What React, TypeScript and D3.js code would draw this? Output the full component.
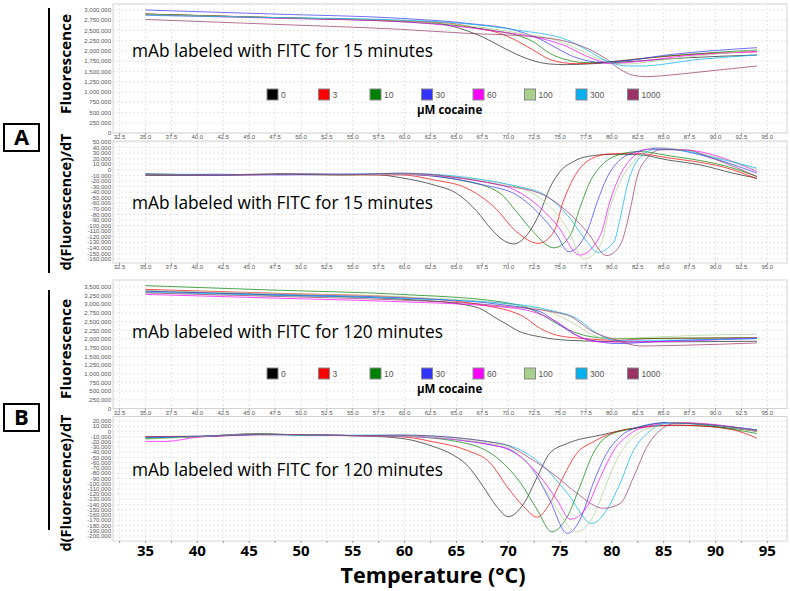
import * as d3 from "d3";

type Pt = [number, number];

const concentrations = ["0", "3", "10", "30", "60", "100", "300", "1000"];
const seriesColors = ["#222222", "#ff0000", "#008000", "#3333ff", "#ff00ff", "#a9d18e", "#00b0f0", "#993366"];

// Fluorescence, mAb labeled 15 min (values in thousands)
const fluor15: Pt[][] = [
  [[35, 2900], [47.5, 2815], [59.6, 2732], [62.8, 2691], [64.4, 2618], [66.0, 2496], [67.6, 2333], [69.2, 2122], [70.8, 1919], [72.4, 1764], [74.0, 1683], [75.7, 1667], [78.2, 1691], [82.1, 1748], [86.9, 1829], [94.0, 1902]],
  [[35, 2900], [47.5, 2815], [59.6, 2732], [64.4, 2675], [67.0, 2553], [69.2, 2431], [70.8, 2252], [72.4, 2024], [74.0, 1797], [75.3, 1715], [76.6, 1691], [78.9, 1715], [82.1, 1797], [86.9, 1902], [94.0, 1984]],
  [[35, 2900], [47.5, 2808], [59.6, 2715], [66.0, 2593], [69.2, 2472], [70.8, 2390], [72.4, 2228], [74.0, 1943], [75.7, 1781], [77.6, 1715], [79.5, 1732], [85.3, 1878], [94.0, 2024]],
  [[35, 3000], [47.5, 2900], [59.6, 2797], [66.0, 2675], [70.8, 2496], [73.1, 2285], [74.7, 2065], [76.3, 1862], [77.6, 1764], [78.9, 1724], [80.8, 1748], [85.3, 1902], [94.0, 2081]],
  [[35, 2880], [47.5, 2800], [59.6, 2715], [69.2, 2472], [73.1, 2309], [75.7, 2106], [77.3, 1902], [78.9, 1748], [79.8, 1691], [82.1, 1732], [86.9, 1878], [94.0, 1984]],
  [[35, 2890], [47.5, 2815], [59.6, 2740], [70.8, 2447], [75.0, 2228], [76.9, 2024], [78.6, 1821], [80.2, 1699], [81.5, 1683], [85.3, 1797], [94.0, 2024]],
  [[35, 2870], [47.5, 2815], [59.6, 2756], [70.8, 2512], [75.7, 2268], [77.6, 2024], [79.5, 1756], [81.5, 1634], [82.7, 1634], [88.5, 1797], [94.0, 1902]],
  [[35, 2770], [47.5, 2650], [59.6, 2528], [66.0, 2431], [72.4, 2350], [75.7, 2228], [77.6, 2065], [79.5, 1797], [80.8, 1553], [82.1, 1406], [83.4, 1374], [85.3, 1406], [88.5, 1488], [94.0, 1634]],
];

// d(Fluorescence)/dT, labeled 15 min (thousands)
const deriv15: Pt[][] = [
  [[35, -7], [42, -9], [48, -7], [54, -8], [57.5, -9], [59.6, -14], [62.8, -27], [65.0, -42], [67.0, -75], [68.3, -105], [69.5, -126], [70.5, -133], [71.8, -117], [73.1, -75], [74.0, -33], [75.0, -3], [76.3, 15], [77.6, 24], [80.2, 28], [82.7, 27], [85.3, 18], [88.5, 9], [91.7, -6], [94.0, -15]],
  [[35, -9], [42, -10], [48, -8], [54, -9], [59.6, -9], [62.8, -18], [66.0, -33], [68.6, -66], [70.8, -111], [72.9, -132], [74.4, -111], [75.3, -57], [76.3, -15], [77.6, 15], [79.5, 28], [82.1, 30], [85.3, 22], [91.7, 0], [94.0, -16]],
  [[35, -10], [42, -9], [48, -8], [54, -9], [59.6, -8], [66.0, -21], [69.2, -42], [70.8, -75], [72.4, -111], [74.4, -140], [76.0, -117], [76.9, -69], [77.9, -21], [78.9, 6], [80.5, 26], [82.7, 33], [85.3, 26], [91.7, 3], [94.0, -12]],
  [[35, -8], [42, -10], [48, -8], [54, -8], [59.6, -8], [67.6, -27], [70.8, -45], [73.1, -81], [74.7, -117], [75.8, -147], [77.6, -111], [78.6, -57], [79.5, -15], [80.8, 18], [82.7, 34], [84.7, 39], [88.5, 27], [94.0, -6]],
  [[35, -9], [42, -8], [48, -9], [54, -8], [59.6, -8], [69.2, -27], [72.4, -57], [74.7, -99], [76.9, -153], [78.9, -117], [79.8, -57], [80.8, -9], [82.1, 24], [83.4, 37], [86.9, 36], [94.0, -3]],
  [[35, -8], [42, -9], [48, -8], [54, -9], [59.6, -8], [69.2, -24], [73.1, -51], [75.7, -105], [77.3, -160], [78.9, -135], [79.8, -69], [80.8, -21], [82.1, 15], [83.4, 36], [84.0, 40], [88.5, 30], [94.0, 0]],
  [[35, -8], [42, -8], [48, -9], [54, -8], [59.6, -6], [72.4, -36], [75.7, -81], [77.6, -129], [78.6, -148], [80.2, -129], [80.8, -87], [81.5, -27], [82.4, 15], [84.0, 36], [85.3, 37], [90.1, 21], [94.0, 3]],
  [[35, -9], [42, -9], [48, -8], [54, -9], [59.6, -6], [69.2, -27], [73.4, -45], [75.7, -75], [77.6, -111], [79.5, -154], [80.8, -135], [81.8, -69], [82.4, -15], [83.4, 21], [84.7, 36], [86.9, 36], [90.1, 18], [94.0, -12]],
];

// Fluorescence, labeled 120 min (thousands)
const fluor120: Pt[][] = [
  [[35, 3384], [47.5, 3270], [59.6, 3153], [66.0, 2979], [67.6, 2834], [68.6, 2642], [69.9, 2420], [70.8, 2256], [73.1, 2063], [75.7, 1966], [78.9, 1937], [82.1, 1918], [94.0, 1937]],
  [[35, 3432], [47.5, 3320], [59.6, 3211], [69.2, 2883], [71.5, 2642], [73.1, 2304], [74.7, 2111], [77.3, 2015], [80.5, 1966], [83.7, 2015], [94.0, 2034]],
  [[35, 3539], [47.5, 3410], [59.6, 3288], [69.2, 3076], [72.4, 2834], [74.4, 2497], [76.3, 2207], [78.9, 2034], [80.5, 2015], [85.3, 2025], [94.0, 2040]],
  [[35, 3384], [47.5, 3290], [59.6, 3191], [69.2, 2998], [73.1, 2786], [75.0, 2400], [76.9, 2063], [78.9, 1918], [80.5, 1870], [85.3, 1947], [94.0, 2015]],
  [[35, 3288], [47.5, 3180], [59.6, 3076], [69.2, 2931], [72.4, 2786], [74.7, 2497], [76.6, 2111], [78.9, 1918], [82.1, 1918], [94.0, 2034]],
  [[35, 3400], [47.5, 3310], [59.6, 3220], [70.8, 2979], [74.0, 2786], [76.6, 2400], [78.2, 2111], [79.5, 2015], [82.1, 2034], [88.5, 2111], [94.0, 2140]],
  [[35, 3350], [47.5, 3260], [59.6, 3172], [70.8, 2998], [74.0, 2834], [76.6, 2593], [78.6, 2159], [80.2, 1966], [85.3, 1966], [94.0, 2015]],
  [[35, 3330], [47.5, 3230], [59.6, 3124], [69.2, 2960], [75.7, 2690], [78.2, 2207], [80.5, 1966], [82.7, 1802], [86.9, 1822], [94.0, 1889]],
];

// d(Fluorescence)/dT, labeled 120 min (thousands)
const deriv120: Pt[][] = [
  [[35, -12], [40, -10], [46, -4], [50, -7], [55, -8], [59.6, -13], [62.8, -29], [64.4, -42], [66.0, -64], [67.6, -106], [68.9, -144], [70.0, -163], [71.5, -138], [72.8, -87], [74.0, -42], [75.7, -23], [78.9, -7], [82.1, 6], [85.3, 12], [91.7, 6], [94.0, 0]],
  [[35, -10], [40, -10], [46, -6], [50, -6], [55, -8], [59.6, -10], [62.8, -20], [66.0, -36], [68.3, -61], [69.9, -106], [71.5, -144], [72.8, -164], [74.0, -138], [75.3, -87], [76.6, -42], [78.2, -20], [80.5, 0], [83.7, 9], [86.9, 12], [91.7, 3], [94.0, -13]],
  [[35, -14], [40, -10], [46, -5], [50, -7], [55, -8], [59.6, -9], [66.0, -23], [69.2, -55], [71.2, -99], [72.8, -150], [74.2, -192], [75.7, -163], [76.9, -106], [78.2, -42], [79.5, -10], [82.1, 6], [84.0, 14], [85.3, 17], [94.0, -4]],
  [[35, -11], [40, -10], [46, -6], [50, -6], [55, -8], [59.6, -9], [69.2, -29], [72.4, -74], [74.0, -131], [75.7, -195], [76.9, -170], [78.2, -99], [79.5, -42], [80.8, -10], [82.7, 9], [85.3, 17], [94.0, 3]],
  [[35, -19], [37, -19], [40, -11], [46, -6], [50, -6], [55, -8], [59.6, -9], [69.2, -29], [73.1, -87], [74.7, -131], [76.0, -168], [77.6, -144], [78.9, -87], [80.2, -36], [81.8, -4], [84.0, 12], [86.6, 17], [94.0, 2]],
  [[35, -15], [40, -10], [46, -5], [50, -6], [55, -8], [59.6, -9], [69.2, -26], [72.4, -74], [74.4, -138], [76.6, -192], [78.2, -163], [79.5, -99], [80.8, -42], [82.1, -10], [84.0, 9], [86.0, 17], [94.0, 0]],
  [[35, -12], [40, -9], [46, -6], [50, -7], [55, -7], [59.6, -7], [69.2, -23], [73.1, -61], [75.7, -118], [78.1, -176], [79.5, -150], [80.8, -99], [82.1, -36], [83.4, -4], [85.3, 16], [94.0, 3]],
  [[35, -10], [40, -9], [46, -6], [50, -6], [55, -8], [59.6, -7], [69.2, -23], [72.4, -55], [74.7, -87], [76.6, -118], [79.2, -147], [80.8, -138], [82.1, -87], [83.4, -29], [84.7, 3], [86.3, 16], [94.0, 2]],
];

const xTicks = d3.range(32.5, 95.01, 2.5);
const bigTicks = d3.range(35, 95.01, 5);

const X_DOMAIN: [number, number] = [31.86, 96.9];
const PLOT_LEFT = 113;
const PLOT_RIGHT = 787;

const fmtY = d3
  .formatLocale({ decimal: ".", thousands: ",", grouping: [3], currency: ["", ""], minus: "-" })
  .format(",");
const fmtX = d3.format(".1f");

const x = d3.scaleLinear().domain(X_DOMAIN).range([PLOT_LEFT, PLOT_RIGHT]);

type PanelProps = {
  data: Pt[][];
  top: number;
  bottom: number;
  domain: [number, number];
  ticks: number[];
  title: string;
  titleY: number;
  titleLen: number;
  legendY?: number;
  xLabels: boolean;
};

const Panel = ({ data, top, bottom, domain, ticks, title, titleY, titleLen, legendY, xLabels }: PanelProps) => {
  const y = d3.scaleLinear().domain(domain).range([bottom, top]);
  const line = d3
    .line<Pt>()
    .x((d) => x(d[0]))
    .y((d) => y(d[1]))
    .curve(d3.curveMonotoneX);

  return (
    <g>
      {xTicks.map((t) => (
        <line key={"vx" + t} x1={x(t)} x2={x(t)} y1={top} y2={bottom} stroke="#e6e6e6" strokeWidth={1} strokeDasharray="2,2" />
      ))}
      {ticks.map((t) => (
        <line key={"hy" + t} x1={PLOT_LEFT} x2={PLOT_RIGHT} y1={y(t)} y2={y(t)} stroke="#e6e6e6" strokeWidth={1} strokeDasharray="2,2" />
      ))}
      <rect x={PLOT_LEFT} y={top} width={PLOT_RIGHT - PLOT_LEFT} height={bottom - top} fill="none" stroke="#d4d4d4" />
      {ticks.map((t) => (
        <text key={"ty" + t} x={PLOT_LEFT - 2} y={y(t)} dy="0.35em" textAnchor="end" fontSize={6} fill="#555" fontFamily="Liberation Sans, Arial, sans-serif">
          {fmtY(t * 1000)}
        </text>
      ))}
      {xTicks.map((t) => (
        <line key={"tx" + t} x1={x(t)} x2={x(t)} y1={bottom} y2={bottom + 2} stroke="#999" />
      ))}
      {xLabels &&
        xTicks.map((t) => (
          <text key={"lx" + t} x={x(t)} y={bottom + 6} textAnchor="middle" fontSize={6} fill="#555" fontFamily="Liberation Sans, Arial, sans-serif">
            {fmtX(t)}
          </text>
        ))}
      <text x={132} y={titleY} fontSize={18} fontFamily="Open Sans, sans-serif" fill="#000" textLength={titleLen} lengthAdjust="spacingAndGlyphs">
        {title}
      </text>
      {data.map((s, i) => (
        <path key={"s" + i} d={line(s) || ""} fill="none" stroke={seriesColors[i]} strokeWidth={1} strokeOpacity={0.7} />
      ))}
      {legendY !== undefined && (
        <g>
          {concentrations.map((c, i) => (
            <g key={"lg" + c} transform={`translate(${267 + i * 51.5},${legendY})`}>
              <rect x={0} y={0} width={11} height={11} fill={seriesColors[i] === "#222222" ? "#000" : seriesColors[i]} stroke="#888" strokeWidth={1} />
              <text x={14} y={9} fontSize={8.5} fill="#555" fontFamily="Liberation Sans, Arial, sans-serif">
                {c}
              </text>
            </g>
          ))}
          <text x={417} y={legendY + 25} fontSize={11.5} fontWeight="bold" fontFamily="Open Sans, sans-serif" fill="#000">
            µM cocaine
          </text>
        </g>
      )}
    </g>
  );
};

const App = () => {
  const rotLabel = (label: string, cy: number, len: number) => (
    <text
      transform={`translate(71,${cy}) rotate(-90)`}
      textAnchor="middle"
      fontSize={15}
      fontWeight="bold"
      fontFamily="Open Sans, sans-serif"
      textLength={len}
      lengthAdjust="spacingAndGlyphs"
    >
      {label}
    </text>
  );

  return (
    <svg width={790} height={591} style={{ position: "absolute", left: 0, top: 0, background: "#fff" }}>
      <rect width={790} height={591} fill="#fff" />
      <Panel
        data={fluor15}
        top={4}
        bottom={133}
        domain={[0, 3146]}
        ticks={d3.range(0, 3000.1, 250)}
        title="mAb labeled with FITC for 15 minutes"
        titleY={57}
        titleLen={301}
        legendY={89}
        xLabels={true}
      />
      <Panel
        data={deriv15}
        top={141}
        bottom={263}
        domain={[-167.2, 51.8]}
        ticks={d3.range(-160, 50.1, 10)}
        title="mAb labeled with FITC for 15 minutes"
        titleY={209}
        titleLen={301}
        xLabels={true}
      />
      <Panel
        data={fluor120}
        top={280}
        bottom={408.5}
        domain={[0, 3702]}
        ticks={d3.range(0, 3500.1, 250)}
        title="mAb labeled with FITC for 120 minutes"
        titleY={338}
        titleLen={311}
        legendY={368}
        xLabels={true}
      />
      <Panel
        data={deriv120}
        top={416.5}
        bottom={541}
        domain={[-209.6, 28.6]}
        ticks={d3.range(-200, 20.1, 10)}
        title="mAb labeled with FITC for 120 minutes"
        titleY={476}
        titleLen={311}
        xLabels={false}
      />

      {bigTicks.map((t) => (
        <text key={"bt" + t} x={x(t)} y={556} textAnchor="middle" fontSize={15} fontWeight="bold" fontFamily="Liberation Sans Narrow, Open Sans, sans-serif">
          {t}
        </text>
      ))}
      <text x={433} y={583} textAnchor="middle" fontSize={22} fontWeight="bold" fontFamily="Open Sans, sans-serif" textLength={185} lengthAdjust="spacingAndGlyphs">
        Temperature (°C)
      </text>

      {/* group brackets and panel letters */}
      <line x1={49} x2={49} y1={8} y2={273} stroke="#000" strokeWidth={2} />
      <line x1={49} x2={49} y1={290} y2={530} stroke="#000" strokeWidth={2} />
      <rect x={4} y={124} width={35} height={27} fill="#fff" stroke="#000" strokeWidth={2} />
      <text x={21.5} y={145} textAnchor="middle" fontSize={22} fontWeight="bold" fontFamily="Open Sans, sans-serif">A</text>
      <rect x={4} y={404} width={35} height={27} fill="#fff" stroke="#000" strokeWidth={2} />
      <text x={21.5} y={425} textAnchor="middle" fontSize={22} fontWeight="bold" fontFamily="Open Sans, sans-serif">B</text>

      {rotLabel("Fluorescence", 64, 100)}
      {rotLabel("d(Fluorescence)/dT", 202, 137)}
      {rotLabel("Fluorescence", 349, 100)}
      {rotLabel("d(Fluorescence)/dT", 483, 137)}
    </svg>
  );
};

export default App;
